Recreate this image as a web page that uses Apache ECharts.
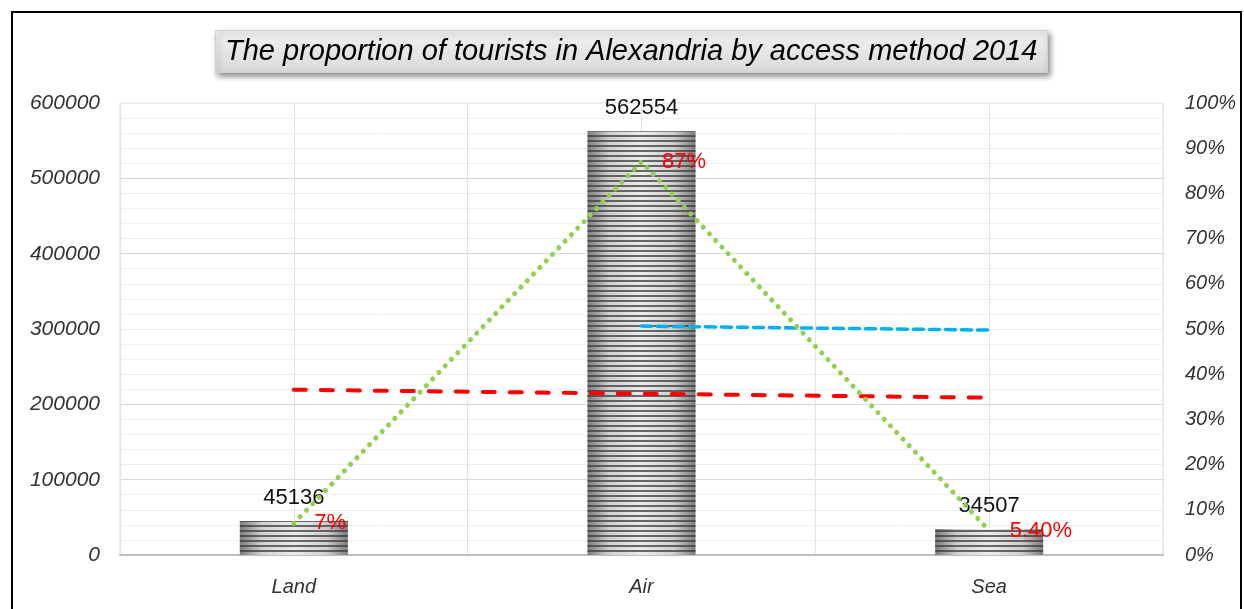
<!DOCTYPE html>
<html>
<head>
<meta charset="utf-8">
<script src="https://cdn.jsdelivr.net/npm/echarts@6/dist/echarts.min.js"></script>
<style>
  html, body { margin: 0; padding: 0; background: #fff; }
  #chart { width: 1244px; height: 609px; }
</style>
</head>
<body>
<div id="chart"></div>
<script>
// Tourist arrivals in Alexandria, 2014, by access method
const categories = ['Land', 'Air', 'Sea'];
const tourists = [45136, 562554, 34507];
const shares = [7, 87, 5.4];                      // percent of total
const linearTrend = [219400, 214100, 208800];     // linear trend of arrivals
const movingAverage = [null, 303845, 298531];     // 2-period moving average
const leftTicks = { min: 0, max: 600000, step: 100000 };
const rightTicks = { min: 0, max: 100, step: 10 };

const chart = echarts.init(document.getElementById('chart'));

const axisFont = {
  fontFamily: 'Liberation Sans',
  fontStyle: 'italic',
  fontSize: 20,
  color: '#333'
};

function pctText(v) {
  return (Number.isInteger(v) ? String(v) : v.toFixed(2)) + '%';
}

const barFill = new echarts.graphic.LinearGradient(0, 0, 1, 0, [
  { offset: 0, color: '#7c7c7c' },
  { offset: 0.2, color: '#cfcfcf' },
  { offset: 0.5, color: '#ececec' },
  { offset: 0.8, color: '#cfcfcf' },
  { offset: 1, color: '#7c7c7c' }
]);

chart.setOption({
  animation: false,
  title: {
    text: 'The proportion of tourists in Alexandria by access method 2014',
    left: 215,
    top: 30,
    padding: [7, 10, 7, 10],
    backgroundColor: new echarts.graphic.LinearGradient(0, 0, 0, 1, [
      { offset: 0, color: '#f2f2f2' },
      { offset: 1, color: '#d9d9d9' }
    ]),
    borderColor: '#d0d0d0',
    borderWidth: 1,
    shadowBlur: 6,
    shadowColor: 'rgba(0,0,0,0.45)',
    shadowOffsetX: 2,
    shadowOffsetY: 3,
    textStyle: {
      fontFamily: 'Liberation Sans',
      fontStyle: 'italic',
      fontWeight: 'normal',
      fontSize: 29,
      color: '#000'
    }
  },
  graphic: [{
    type: 'rect',
    shape: { x: 12, y: 12, width: 1229, height: 640 },
    style: { fill: 'none', stroke: '#000', lineWidth: 2 },
    silent: true
  }],
  grid: { left: 120, right: 81, top: 103, bottom: 54, show: true, borderColor: '#e0e0e0', borderWidth: 1 },
  xAxis: [{
    type: 'category',
    data: categories,
    axisLine: { lineStyle: { color: '#bfbfbf', width: 2 } },
    axisTick: { show: false },
    axisLabel: Object.assign({ margin: 22 }, axisFont),
    splitLine: { show: false }
  }, {
    type: 'value',
    min: 0, max: 6, interval: 1,
    position: 'bottom',
    axisLine: { show: false },
    axisTick: { show: false },
    axisLabel: { show: false },
    splitLine: { show: true, lineStyle: { color: '#e3e3e3', width: 1 } }
  }],
  yAxis: [{
    type: 'value',
    min: leftTicks.min, max: leftTicks.max, interval: leftTicks.step,
    axisLine: { show: false },
    axisTick: { show: false },
    axisLabel: Object.assign({ margin: 20, formatter: v => String(v) }, axisFont, { fontSize: 21 }),
    splitLine: { lineStyle: { color: '#d9d9d9', width: 1 } },
    minorTick: { show: false, splitNumber: 5 },
    minorSplitLine: { show: true, lineStyle: { color: '#f0f0f0', width: 1 } }
  }, {
    type: 'value',
    min: rightTicks.min, max: rightTicks.max, interval: rightTicks.step,
    position: 'right',
    axisLine: { show: false },
    axisTick: { show: false },
    axisLabel: Object.assign({ margin: 22, formatter: '{value}%' }, axisFont),
    splitLine: { lineStyle: { color: '#ececec', width: 1 } }
  }],
  series: [{
    name: 'Tourists',
    type: 'bar',
    data: tourists,
    barWidth: 108,
    itemStyle: {
      color: barFill,
      decal: {
        symbol: 'rect',
        symbolSize: 1,
        dashArrayX: [[1, 0]],
        dashArrayY: [1.5, 2.5],
        rotation: 0,
        color: 'rgba(60,60,60,0.75)'
      }
    },
    label: {
      show: true,
      position: 'top',
      distance: 12,
      fontFamily: 'Liberation Sans',
      fontSize: 22,
      color: '#111'
    },
    z: 2
  }, {
    name: 'Share',
    type: 'line',
    yAxisIndex: 1,
    data: shares,
    symbol: 'circle',
    symbolSize: 1,
    itemStyle: { color: 'rgba(0,0,0,0)' },
    lineStyle: { color: '#92d050', width: 5, type: [0.1, 9], cap: 'round' },
    label: {
      show: true,
      position: 'right',
      distance: 20,
      formatter: p => pctText(p.value),
      fontFamily: 'Liberation Sans',
      fontSize: 22,
      color: '#ff0000'
    },
    labelLayout: { hideOverlap: false },
    z: 4
  }, {
    name: 'Linear trend',
    type: 'line',
    data: linearTrend,
    symbol: 'none',
    lineStyle: { color: '#ff0000', width: 4, type: [12, 15], cap: 'round' },
    z: 3
  }, {
    name: 'Moving average',
    type: 'line',
    data: movingAverage,
    symbol: 'none',
    lineStyle: { color: '#00b0f0', width: 3.5, type: [10, 6], cap: 'round' },
    z: 3
  }]
});
</script>
</body>
</html>
